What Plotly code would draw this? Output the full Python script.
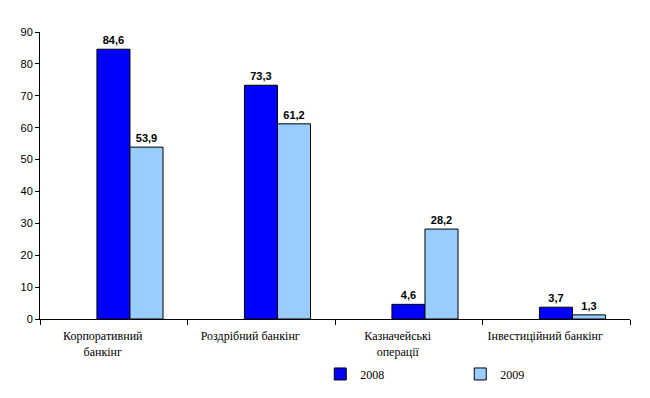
import plotly.graph_objects as go

categories = ["Корпоративний<br>банкінг", "Роздрібний банкінг", "Казначейські<br>операції", "Інвестиційний банкінг"]
values_2008 = [84.6, 73.3, 4.6, 3.7]
values_2009 = [53.9, 61.2, 28.2, 1.3]
series_names = ["2008", "2009"]
y_ticks = [0, 10, 20, 30, 40, 50, 60, 70, 80, 90]

bar_w = 0.224
serif = "Times New Roman, Liberation Serif, Noto Serif, DejaVu Serif, serif"

fig = go.Figure()
fig.add_trace(go.Bar(
    x=categories, y=values_2008, name=series_names[0],
    width=bar_w, offset=-0.114,
    marker=dict(color="#0000FF", line=dict(color="black", width=1)),
    texttemplate="%{y:.1f}", textposition="outside", cliponaxis=False,
    textfont=dict(family="Liberation Sans", size=11, color="black", weight="bold"),
))
fig.add_trace(go.Bar(
    x=categories, y=values_2009, name=series_names[1],
    width=bar_w, offset=-0.114 + bar_w,
    marker=dict(color="#99CCFF", line=dict(color="black", width=1)),
    texttemplate="%{y:.1f}", textposition="outside", cliponaxis=False,
    textfont=dict(family="Liberation Sans", size=11, color="black", weight="bold"),
))

fig.update_layout(
    width=650, height=398,
    margin=dict(l=32, r=28, t=24, b=87),
    paper_bgcolor="white", plot_bgcolor="white",
    font=dict(family=serif, size=12, color="black"),
    separators=",.",
    barmode="overlay",
    showlegend=True,
    legend=dict(
        orientation="h", x=0.475, y=-0.141, xanchor="left", yanchor="top",
        font=dict(family=serif, size=12, color="black"),
        entrywidth=95, entrywidthmode="pixels",
        itemwidth=30,
        bgcolor="rgba(0,0,0,0)",
    ),
    xaxis=dict(
        type="category", tickson="boundaries", automargin=False,
        showline=True, linecolor="black", linewidth=1,
        ticks="outside", ticklen=5, tickcolor="black",
        tickfont=dict(family=serif, size=12, color="black"),
        ticklabelshift=-11, ticklabelstandoff=6,
        showgrid=False, zeroline=False,
    ),
    yaxis=dict(
        range=[0, 90], tickvals=y_ticks, automargin=False,
        showline=True, linecolor="black", linewidth=1,
        ticks="outside", ticklen=4, tickcolor="black",
        tickfont=dict(family="Liberation Sans", size=11, color="black"),
        showgrid=False, zeroline=False,
    ),
)

fig.write_html("out.html")
